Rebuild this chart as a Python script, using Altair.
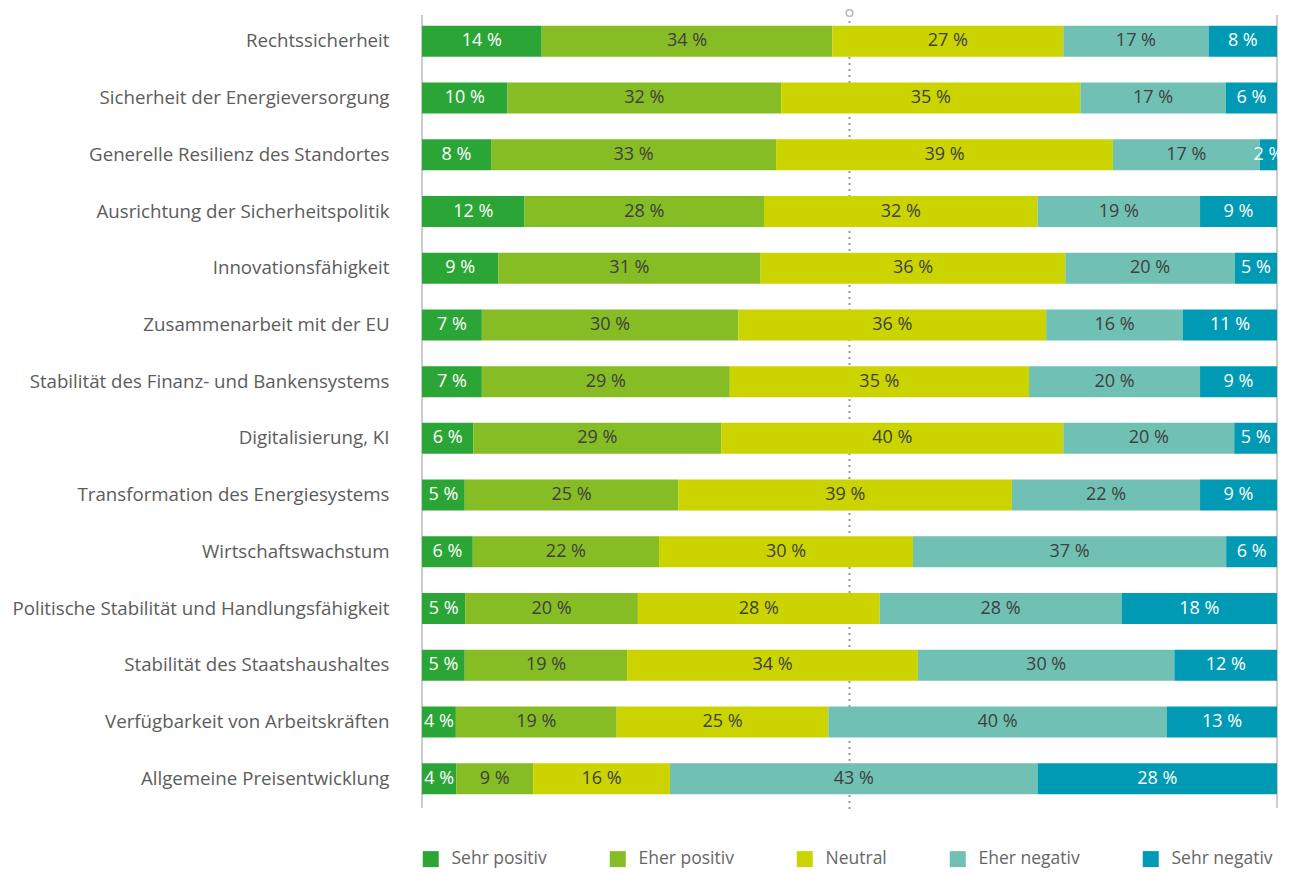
import altair as alt
import pandas as pd

categories = [
    "Rechtssicherheit",
    "Sicherheit der Energieversorgung",
    "Generelle Resilienz des Standortes",
    "Ausrichtung der Sicherheitspolitik",
    "Innovationsfähigkeit",
    "Zusammenarbeit mit der EU",
    "Stabilität des Finanz- und Bankensystems",
    "Digitalisierung, KI",
    "Transformation des Energiesystems",
    "Wirtschaftswachstum",
    "Politische Stabilität und Handlungsfähigkeit",
    "Stabilität des Staatshaushaltes",
    "Verfügbarkeit von Arbeitskräften",
    "Allgemeine Preisentwicklung",
]
responses = ["Sehr positiv", "Eher positiv", "Neutral", "Eher negativ", "Sehr negativ"]
sehr_positiv = [14, 10, 8, 12, 9, 7, 7, 6, 5, 6, 5, 5, 4, 4]
eher_positiv = [34, 32, 33, 28, 31, 30, 29, 29, 25, 22, 20, 19, 19, 9]
neutral = [27, 35, 39, 32, 36, 36, 35, 40, 39, 30, 28, 34, 25, 16]
eher_negativ = [17, 17, 17, 19, 20, 16, 20, 20, 22, 37, 28, 30, 40, 43]
sehr_negativ = [8, 6, 2, 9, 5, 11, 9, 5, 9, 6, 18, 12, 13, 28]
colors = ["#2ba636", "#86bc24", "#ccd400", "#70c1b3", "#009ab4"]

series = [sehr_positiv, eher_positiv, neutral, eher_negativ, sehr_negativ]
rows = []
for ri, (resp, vals) in enumerate(zip(responses, series)):
    for cat, v in zip(categories, vals):
        rows.append({"cat": cat, "resp": resp, "order": ri, "value": v})
df = pd.DataFrame(rows)

W, H = 855, 794
FONT = "Open Sans"

base = alt.Chart(df).transform_window(
    cum="sum(value)", frame=[None, 0], sort=[{"field": "order"}], groupby=["cat"]
).transform_joinaggregate(
    total="sum(value)", groupby=["cat"]
).transform_calculate(
    start="(datum.cum - datum.value) / datum.total",
    end="datum.cum / datum.total",
    mid="(datum.cum - datum.value / 2) / datum.total",
    label="datum.value + ' %'",
    tc="(datum.order == 0 || datum.order == 4) ? '#ffffff' : '#404040'",
)

yenc = alt.Y(
    "cat:N",
    sort=categories,
    scale=alt.Scale(paddingInner=0.45, paddingOuter=0.225),
    axis=alt.Axis(
        title=None, domain=False, ticks=False, labelPadding=33,
        labelFontSize=18.7, labelFont=FONT, labelColor="#5c5c5c", labelLimit=420,
    ),
)
xscale = alt.Scale(domain=[0, 1])

bars = base.mark_bar(size=31).encode(
    x=alt.X("start:Q", scale=xscale, axis=None),
    x2="end:Q",
    y=yenc,
    color=alt.Color(
        "resp:N",
        scale=alt.Scale(domain=responses, range=colors),
        legend=alt.Legend(
            title=None, orient="none", legendX=0, legendY=837,
            direction="horizontal", symbolType="square", symbolSize=256,
            symbolStrokeWidth=0, labelFontSize=17.5, labelFont=FONT,
            labelColor="#666666", labelOffset=12, columnPadding=62,
        ),
    ),
    order=alt.Order("order:Q"),
)

text = base.mark_text(fontSize=18, font=FONT).encode(
    x=alt.X("mid:Q", scale=xscale, axis=None),
    y=alt.Y("cat:N", sort=categories),
    text="label:N",
    color=alt.Color("tc:N", scale=None),
)

edge_df = pd.DataFrame({"x": [0.0, 1.0]})
edges = alt.Chart(edge_df).mark_rule(color="#cccccc", strokeWidth=2).encode(
    x=alt.X("x:Q", scale=xscale, axis=None),
    y=alt.value(2),
    y2=alt.value(795),
)
mid_df = pd.DataFrame({"x": [0.5]})
midline = alt.Chart(mid_df).mark_rule(
    color="#9a9a9a", strokeWidth=2, strokeDash=[2, 4]
).encode(
    x=alt.X("x:Q", scale=xscale, axis=None),
    y=alt.value(8),
    y2=alt.value(796),
)
circle = alt.Chart(mid_df).mark_point(
    shape="circle", filled=False, size=45, color="#9a9a9a", strokeWidth=1.5
).encode(
    x=alt.X("x:Q", scale=xscale, axis=None),
    y=alt.value(0),
)

chart = alt.layer(edges, midline, circle, bars, text).properties(
    width=W, height=H,
    autosize=alt.AutoSizeParams(type="none"),
    padding={"left": 414, "top": 5, "right": 10, "bottom": 64},
).configure_view(stroke=None)

chart.save("out.html", embed_options={"renderer": "svg", "actions": False})
